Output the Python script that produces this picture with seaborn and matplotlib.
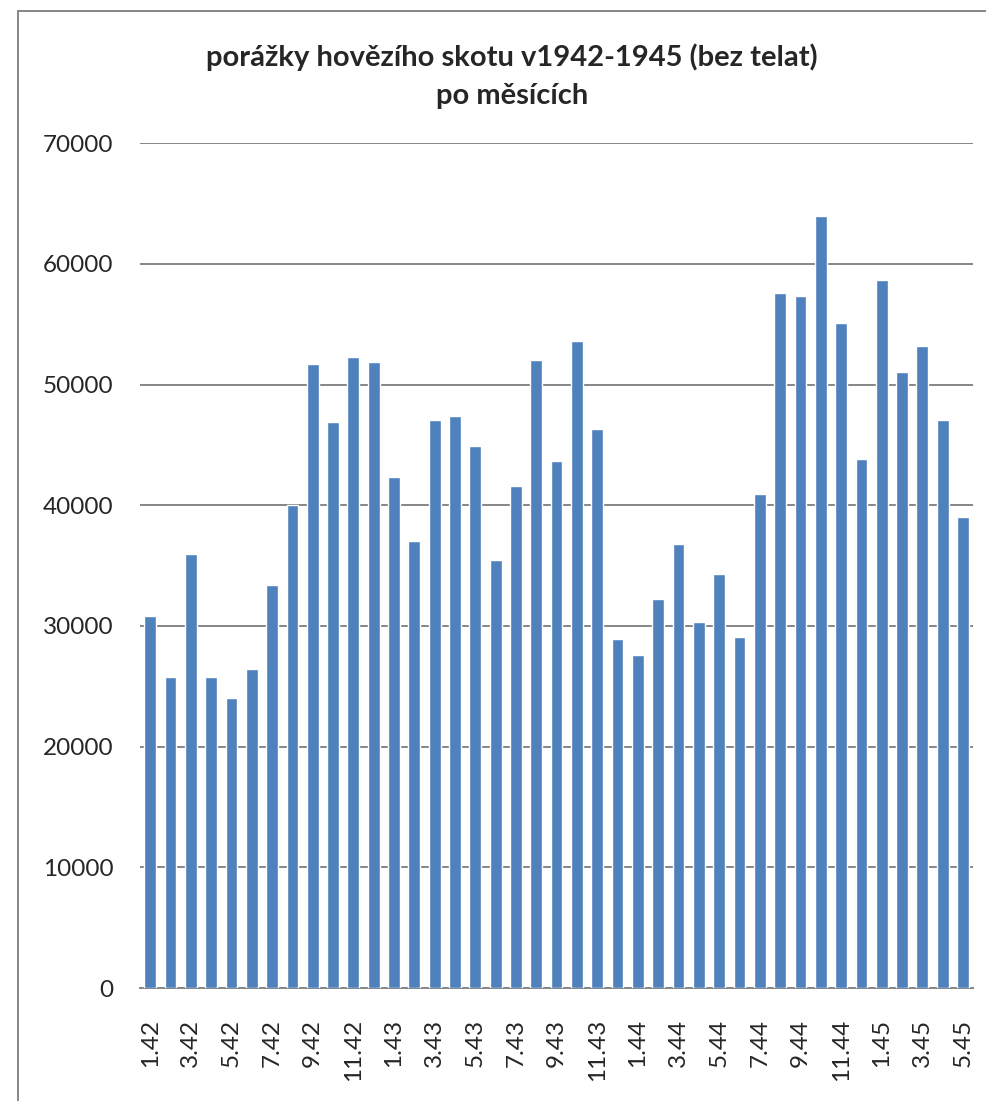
import matplotlib.pyplot as plt
import seaborn as sns
import pandas as pd
from matplotlib.lines import Line2D

# months 1.42 .. 5.45
months = [f"{m}.{y}" for y in (42, 43, 44) for m in range(1, 13)] + [f"{m}.45" for m in range(1, 6)]
slaughter = [
    30800, 25800, 36000, 25800, 24000, 26400, 33400, 40000, 51700, 46900, 52300, 51900,  # 1942
    42300, 37000, 47100, 47400, 44900, 35500, 41600, 52000, 43700, 53600, 46300, 28900,  # 1943
    27600, 32200, 36800, 30300, 34300, 29100, 40900, 57600, 57300, 64000, 55100, 43800,  # 1944
    58700, 51000, 53200, 47100, 39000,                                                    # 1945
]
y_ticks = [0, 10000, 20000, 30000, 40000, 50000, 60000, 70000]
title = "porážky hovězího skotu v1942-1945 (bez telat)\npo měsících"

df = pd.DataFrame({"month": months, "count": slaughter})

sns.set_style("white")
plt.rcParams["font.family"] = ["Lato", "DejaVu Sans"]

fig = plt.figure(figsize=(9.86, 11.01), dpi=100)
ax = fig.add_axes([0.142, 0.1026, 0.845, 0.7674])

sns.barplot(data=df, x="month", y="count", color="#4F81BD", saturation=1,
            width=0.58, ax=ax, zorder=3)

ax.set_ylim(0, 70000)
ax.set_yticks(y_ticks)
ax.set_yticklabels([str(v) for v in y_ticks], fontsize=17.5)
ax.set_xlim(-0.5, len(months) - 0.5)
ax.set_xticks(range(0, len(months), 2))
ax.set_xticklabels(months[::2], rotation=90, fontsize=17.5)
ax.tick_params(axis="y", length=0, pad=19)
ax.tick_params(axis="x", length=0, pad=22)
ax.set_xlabel("")
ax.set_ylabel("")
ax.grid(axis="y", color="#868686", linewidth=1.4, zorder=0)
for s in ["top", "right", "left"]:
    ax.spines[s].set_visible(False)
ax.spines["bottom"].set_color("#868686")
ax.spines["bottom"].set_linewidth(1.4)

fig.text(0.519, 0.931, title, ha="center", va="center", fontsize=21,
         fontweight="bold", linespacing=1.55)

# chart area frame (left and top edges visible)
x0, y0 = 18 / 986, 1 - 11 / 1101
fig.add_artist(Line2D([x0, x0], [0, y0], transform=fig.transFigure, color="#868686", lw=1.4))
fig.add_artist(Line2D([x0, 1], [y0, y0], transform=fig.transFigure, color="#868686", lw=1.4))

fig.savefig("out.png", dpi=100, facecolor="white")
